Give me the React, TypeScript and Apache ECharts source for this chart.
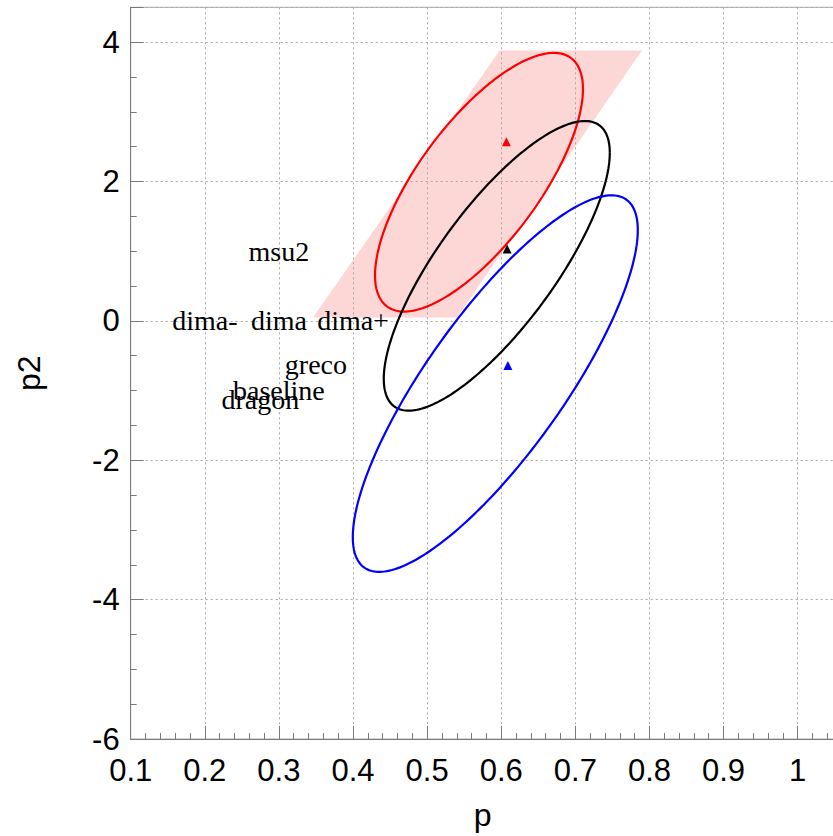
import React, { useEffect, useRef } from 'react';
import * as echarts from 'echarts';

// Axis ranges
const xMin = 0.1;
const xMax = 1.05;
const yMin = -6;
const yMax = 4.5;

// Confidence ellipses: centre, spread along p and p2, correlation
const ellipseColors = ['#ff0000', '#000000', '#0000ff'];
const ellipseCenterX = [0.570, 0.594, 0.592];
const ellipseCenterY = [1.99, 0.79, -0.9];
const ellipseSigmaX = [0.1403, 0.1525, 0.1923];
const ellipseSigmaY = [1.856, 2.078, 2.702];
const ellipseRho = [0.72, 0.78, 0.815];

// Best-fit points
const markerColors = ['#ff0000', '#000000', '#0000ff'];
const markerX = [0.607, 0.608, 0.609];
const markerY = [2.57, 1.03, -0.64];

// Allowed band (parallelogram)
const bandX = [0.346, 0.54, 0.79, 0.598];
const bandY = [0.05, 0.05, 3.88, 3.88];

// Model labels
const labelNames = ['msu2', 'dima-', 'dima', 'dima+', 'greco', 'baseline', 'dragon'];
const labelX = [0.3, 0.2, 0.3, 0.4, 0.35, 0.3, 0.275];
const labelY = [1.0, 0.0, 0.0, 0.0, -0.63, -1.0, -1.13];

const SANS = 'Liberation Sans';
const SERIF = 'Liberation Serif';

export default function App() {
  const ref = useRef<HTMLDivElement>(null);

  useEffect(() => {
    if (!ref.current) return;
    const chart = echarts.init(ref.current, null, { renderer: 'svg' });

    const axisColor = '#7a7a7a';
    const gridLine = { show: true, lineStyle: { color: '#a8a8a8', type: [2, 3] as number[], width: 1 } };

    const ellipseData = ellipseColors.map((_, i) => [
      ellipseCenterX[i],
      ellipseCenterY[i],
      ellipseSigmaX[i],
      ellipseSigmaY[i],
      ellipseRho[i],
    ]);

    chart.setOption({
      animation: false,
      backgroundColor: '#ffffff',
      grid: {
        left: 130.7,
        top: 7.3,
        width: 704,
        height: 732.6,
        show: true,
        borderColor: '#aaaaaa',
        borderWidth: 1,
        backgroundColor: 'transparent',
      },
      xAxis: {
        type: 'value',
        min: xMin,
        max: xMax,
        interval: 0.1,
        name: 'p',
        nameLocation: 'middle',
        nameGap: 60,
        nameTextStyle: { fontFamily: SANS, fontSize: 32, color: '#000' },
        axisLine: { show: true, onZero: false, lineStyle: { color: axisColor, width: 1 } },
        axisTick: { show: true, inside: true, length: 13, lineStyle: { color: axisColor } },
        minorTick: { show: true, splitNumber: 5, length: 6, lineStyle: { color: axisColor } },
        axisLabel: {
          fontFamily: SANS,
          fontSize: 31,
          color: '#000',
          margin: 16,
          showMaxLabel: false,
        },
        splitLine: gridLine,
      },
      yAxis: {
        type: 'value',
        min: yMin,
        max: yMax,
        interval: 2,
        name: 'p2',
        nameLocation: 'middle',
        nameGap: 86,
        nameTextStyle: { fontFamily: SANS, fontSize: 32, color: '#000' },
        axisLine: { show: true, onZero: false, lineStyle: { color: axisColor, width: 1 } },
        axisTick: { show: true, inside: true, length: 13, lineStyle: { color: axisColor } },
        minorTick: { show: true, splitNumber: 4, length: 6, lineStyle: { color: axisColor } },
        axisLabel: {
          fontFamily: SANS,
          fontSize: 31,
          color: '#000',
          margin: 11,
          showMaxLabel: false,
        },
        splitLine: gridLine,
      },
      series: [
        {
          type: 'custom',
          z: -1,
          silent: true,
          clip: true,
          data: [[bandX[0], bandY[0]]],
          renderItem: (_params: any, api: any) => {
            const points = bandX.map((x, i) => api.coord([x, bandY[i]]));
            return {
              type: 'polygon',
              shape: { points },
              style: { fill: '#fdd6d6', stroke: 'none' },
            };
          },
        },
        {
          type: 'custom',
          silent: true,
          clip: true,
          data: ellipseData,
          renderItem: (params: any, api: any) => {
            const cx = api.value(0);
            const cy = api.value(1);
            const sx = api.value(2);
            const sy = api.value(3);
            const rho = api.value(4);
            const k = Math.sqrt(1 - rho * rho);
            const points: number[][] = [];
            const n = 240;
            for (let j = 0; j <= n; j++) {
              const t = (j / n) * Math.PI * 2;
              const c = Math.cos(t);
              const s = Math.sin(t);
              points.push(api.coord([cx + sx * c, cy + sy * (rho * c + k * s)]));
            }
            return {
              type: 'polyline',
              shape: { points },
              style: { fill: 'none', stroke: ellipseColors[params.dataIndex], lineWidth: 2.2 },
            };
          },
        },
        {
          type: 'scatter',
          silent: true,
          symbol: 'triangle',
          symbolSize: 9,
          data: markerX.map((x, i) => ({
            value: [x, markerY[i]],
            itemStyle: { color: markerColors[i], opacity: 1 },
          })),
        },
        {
          type: 'custom',
          silent: true,
          data: labelNames.map((_, i) => [labelX[i], labelY[i]]),
          renderItem: (params: any, api: any) => {
            const pt = api.coord([api.value(0), api.value(1)]);
            return {
              type: 'text',
              x: pt[0],
              y: pt[1],
              style: {
                text: labelNames[params.dataIndex],
                fontFamily: SERIF,
                fontSize: 28,
                fill: '#000',
                align: 'center',
                verticalAlign: 'middle',
              },
            };
          },
        },
      ],
    });

    return () => chart.dispose();
  }, []);

  return (
    <div
      ref={ref}
      style={{ position: 'fixed', left: 0, top: 0, width: 836, height: 836, background: '#fff' }}
    />
  );
}
